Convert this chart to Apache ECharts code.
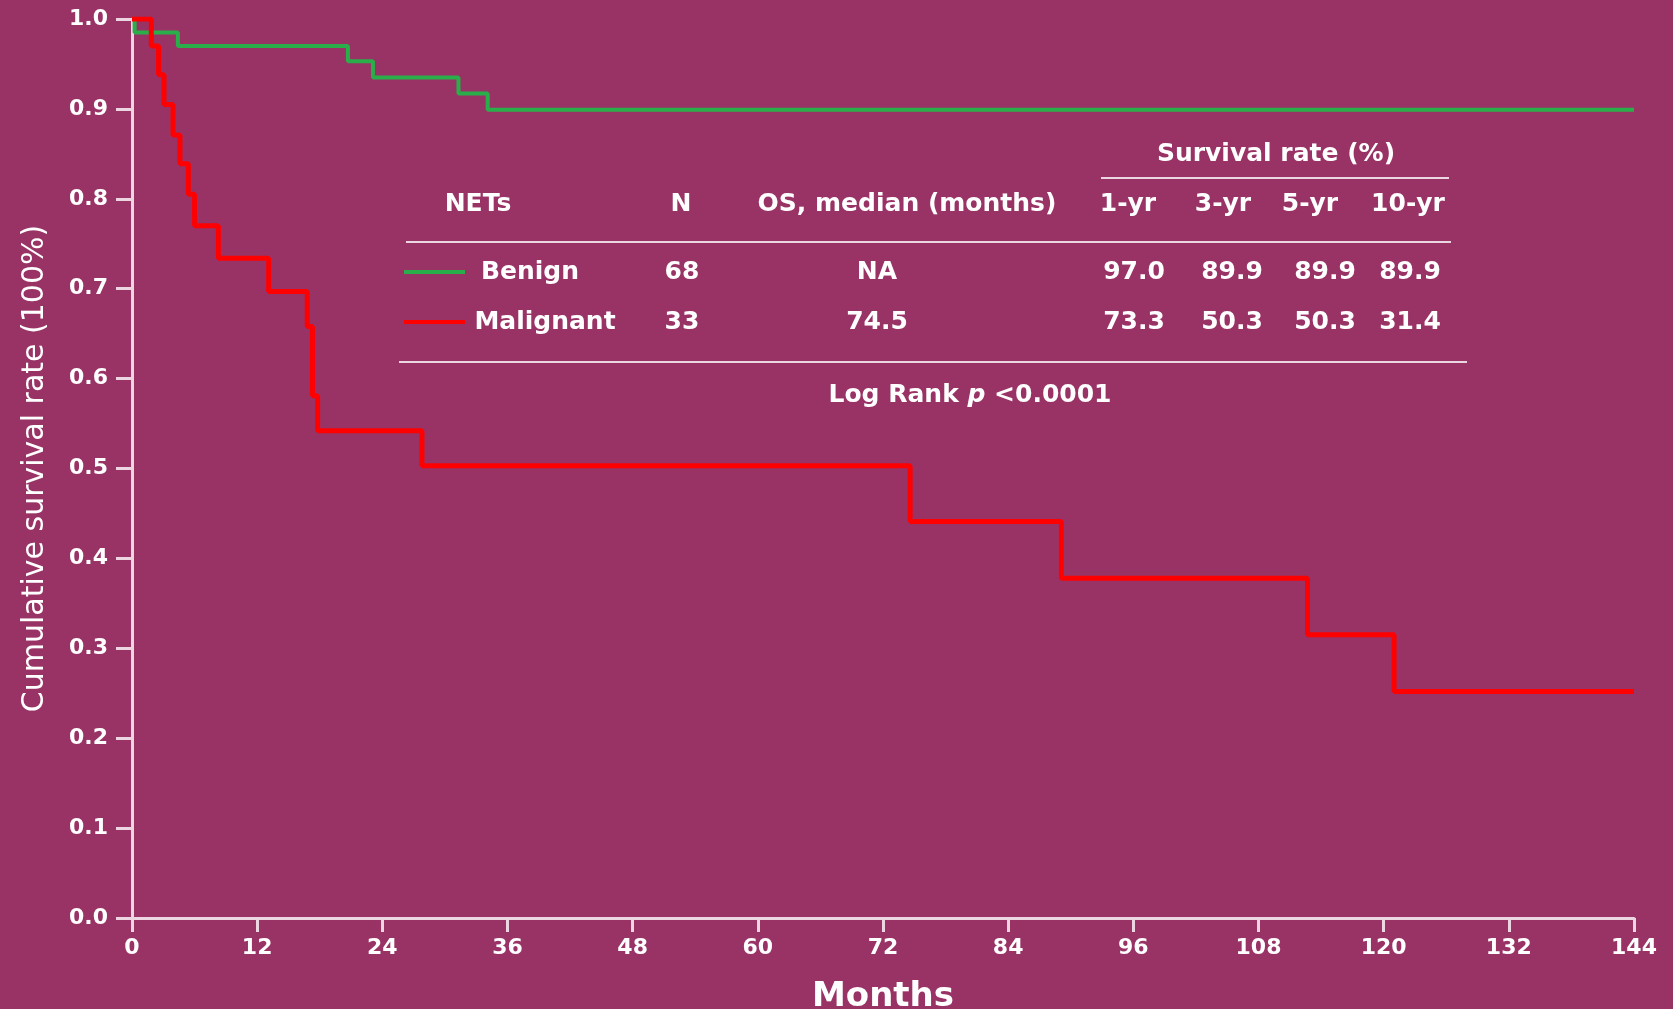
<!DOCTYPE html>
<html>
<head>
<meta charset="utf-8">
<title>Kaplan-Meier survival of NETs</title>
<script src="https://cdn.jsdelivr.net/npm/echarts@6/dist/echarts.min.js"></script>
<style>
  html, body { margin: 0; padding: 0; background: #993366; }
  #chart { width: 1673px; height: 1009px; }
</style>
</head>
<body>
<div id="chart"></div>
<script>
// Kaplan-Meier step data: event time (months) and survival after the event
const benignMonths = [0, 0.25, 4.4, 20.7, 23.1, 31.3, 34.1, 144];
const benignSurvival = [1.0, 0.985, 0.970, 0.953, 0.935, 0.917, 0.899, 0.899];

const malignantMonths = [0, 1.85, 2.55, 3.07, 3.93, 4.6, 5.4, 6.0, 8.28, 13.1, 16.8, 17.3, 17.8, 27.8, 74.6, 89.1, 112.7, 121.0, 144];
const malignantSurvival = [1.0, 0.970, 0.938, 0.905, 0.871, 0.839, 0.805, 0.770, 0.734, 0.697, 0.658, 0.581, 0.542, 0.503, 0.441, 0.378, 0.315, 0.252, 0.252];

// Axis ticks
const monthTicks = [0, 12, 24, 36, 48, 60, 72, 84, 96, 108, 120, 132, 144];
const survivalTicks = [0, 0.1, 0.2, 0.3, 0.4, 0.5, 0.6, 0.7, 0.8, 0.9, 1.0];

// Summary table
const tableGroups = ['Benign', 'Malignant'];
const tableN = [68, 33];
const tableMedianOS = ['NA', '74.5'];
const rateHeaders = ['1-yr', '3-yr', '5-yr', '10-yr'];
const rate1yr = [97.0, 73.3];
const rate3yr = [89.9, 50.3];
const rate5yr = [89.9, 50.3];
const rate10yr = [89.9, 31.4];
const logRankText = '<0.0001';

const BG = '#993366';
const AXIS = '#ecd6e2';
const GREEN = '#2aae4a';
const RED = '#ff0000';
const FONT = '"DejaVu Sans", "Liberation Sans", Arial, sans-serif';

function pairs(xs, ys) { return xs.map((x, i) => [x, ys[i]]); }

function txt(str, x, y, opts) {
  opts = opts || {};
  return {
    type: 'text', x: x, y: y, silent: true,
    style: {
      text: str, fill: '#ffffff',
      font: (opts.weight || 'bold') + ' ' + (opts.size || 25) + 'px ' + FONT,
      textAlign: opts.align || 'center', textVerticalAlign: 'middle',
      align: opts.align || 'center', verticalAlign: 'middle',
      rich: opts.rich
    }
  };
}
function hline(x1, x2, y, color, w) {
  return { type: 'line', silent: true, shape: { x1: x1, y1: y, x2: x2, y2: y },
           style: { stroke: color, lineWidth: w } };
}

// Table layout
const headerY = 204, rowY = [272, 322];
const rateHeaderX = [1128, 1223, 1310, 1408];
const rateValueX = [1134, 1232, 1325, 1410];
const rateCols = [rate1yr, rate3yr, rate5yr, rate10yr];
const rowColors = [GREEN, RED];
const groupX = [530, 545];

const graphics = [];
graphics.push(txt('Survival rate (%)', 1276, 154));
graphics.push(hline(1101, 1449, 178, AXIS, 2));
graphics.push(txt('NETs', 478, headerY));
graphics.push(txt('N', 681, headerY));
graphics.push(txt('OS, median (months)', 907, headerY));
rateHeaders.forEach((h, i) => graphics.push(txt(h, rateHeaderX[i], headerY)));
graphics.push(hline(406, 1451, 242, AXIS, 2));
tableGroups.forEach((g, r) => {
  graphics.push(hline(404, 465, rowY[r], rowColors[r], 4));
  graphics.push(txt(g, groupX[r], rowY[r]));
  graphics.push(txt(String(tableN[r]), 682, rowY[r]));
  graphics.push(txt(tableMedianOS[r], 877, rowY[r]));
  rateCols.forEach((col, c) => graphics.push(txt(col[r].toFixed(1), rateValueX[c], rowY[r])));
});
graphics.push(hline(399, 1467, 362, AXIS, 2));
graphics.push(txt('{a|Log Rank }{p|p}{a| ' + logRankText + '}', 970, 395, {
  rich: {
    a: { fontFamily: FONT, fontWeight: 'bold', fontSize: 25, fill: '#fff', color: '#fff' },
    p: { fontFamily: FONT, fontWeight: 'bold', fontStyle: 'italic', fontSize: 25, fill: '#fff', color: '#fff' }
  }
}));

const chart = echarts.init(document.getElementById('chart'), null, { renderer: 'canvas' });
chart.setOption({
  backgroundColor: BG,
  animation: false,
  grid: { left: 132, right: 39, top: 19, bottom: 91, containLabel: false, outerBoundsMode: 'none' },
  xAxis: {
    type: 'value', min: monthTicks[0], max: monthTicks[monthTicks.length - 1], interval: 12,
    name: 'Months', nameLocation: 'middle', nameGap: 62,
    nameTextStyle: { color: '#ffffff', fontFamily: FONT, fontWeight: 'bold', fontSize: 34 },
    axisLine: { show: true, lineStyle: { color: AXIS, width: 3 } },
    axisTick: { show: true, length: 14, lineStyle: { color: AXIS, width: 3 } },
    axisLabel: { color: '#ffffff', fontFamily: FONT, fontWeight: 'bold', fontSize: 22, margin: 19,
                 formatter: v => String(v) },
    splitLine: { show: false }
  },
  yAxis: {
    type: 'value', min: survivalTicks[0], max: survivalTicks[survivalTicks.length - 1], interval: 0.1,
    name: 'Cumulative survival rate (100%)', nameLocation: 'middle', nameGap: 82,
    nameTextStyle: { color: '#ffffff', fontFamily: FONT, fontWeight: 'normal', fontSize: 30 },
    axisLine: { show: true, lineStyle: { color: AXIS, width: 3 } },
    axisTick: { show: true, length: 16, lineStyle: { color: AXIS, width: 3 } },
    axisLabel: { color: '#ffffff', fontFamily: FONT, fontWeight: 'bold', fontSize: 22, margin: 24,
                 formatter: v => v.toFixed(1) },
    splitLine: { show: false }
  },
  series: [
    {
      name: 'Benign', type: 'line', step: 'end', showSymbol: false, symbol: 'none',
      data: pairs(benignMonths, benignSurvival),
      lineStyle: { color: GREEN, width: 4 }, z: 3
    },
    {
      name: 'Malignant', type: 'line', step: 'end', showSymbol: false, symbol: 'none',
      data: pairs(malignantMonths, malignantSurvival),
      lineStyle: { color: RED, width: 5 }, z: 4
    }
  ],
  graphic: graphics
});
</script>
</body>
</html>
